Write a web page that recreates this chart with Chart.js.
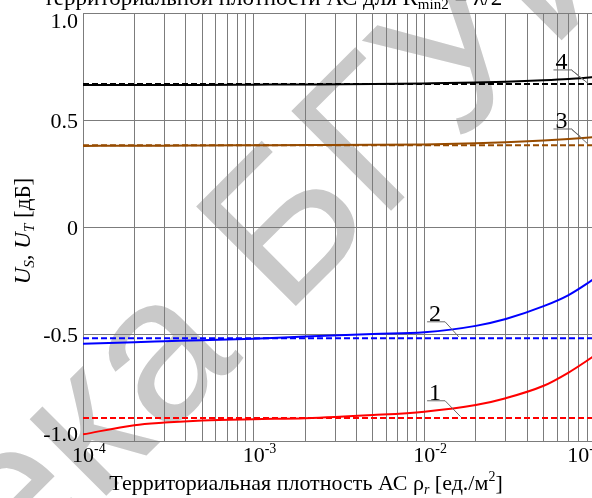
<!DOCTYPE html>
<html>
<head>
<meta charset="utf-8">
<script src="https://cdn.jsdelivr.net/npm/chart.js@4.4.1/dist/chart.umd.min.js"></script>
<style>
  html, body { margin: 0; padding: 0; background: #fff; overflow: hidden; width: 592px; height: 498px; }
  canvas { display: block; }
</style>
</head>
<body>
<canvas id="chart" width="612" height="498"></canvas>
<script>
// --- данные ---

// территориальная плотность АС, ед./м²
const rho = [1e-4, 2e-4, 3e-4, 5e-4, 1e-3, 2e-3, 5e-3, 1e-2, 2e-2, 3e-2, 5e-2, 7e-2, 1e-1];

// сплошные кривые (дБ)
const u1 = [-0.969, -0.926, -0.914, -0.904, -0.898, -0.894, -0.879, -0.863, -0.832, -0.800, -0.742, -0.680, -0.600];
const u2 = [-0.546, -0.538, -0.534, -0.529, -0.522, -0.512, -0.500, -0.492, -0.462, -0.430, -0.370, -0.318, -0.240];
const u3 = [0.379, 0.380, 0.380, 0.381, 0.382, 0.383, 0.384, 0.386, 0.391, 0.396, 0.404, 0.411, 0.420];
const u4 = [0.664, 0.664, 0.664, 0.664, 0.665, 0.666, 0.668, 0.671, 0.675, 0.679, 0.686, 0.692, 0.701];

// штриховые (асимптотические) уровни
const u1Dash = -0.892;
const u2Dash = -0.520;
const u3Dash = 0.382;
const u4Dash = 0.668;

// оси
const xDecades = [-4, -3, -2];
const xMantissas = [1, 2, 3, 4, 5, 6, 7, 8, 9];
const xMax = 1e-1;
const xLabelPowers = [-4, -3, -2, -1];
const yTicks = [-1, -0.5, 0, 0.5, 1];
const yTickLabels = ['-1.0', '-0.5', '0', '0.5', '1.0'];

// номера кривых: начало полочки (ρ, U) и концы выносок
const curveNames = ['1', '2', '3', '4'];
const curveLabelAt = [[0.01038, -0.812], [0.01038, -0.443], [0.0571, 0.458], [0.0571, 0.734]];
const curveLabelTips = [
  [[0.0163, -0.886]],
  [[0.0159, -0.513]],
  [[0.0822, 0.422], [0.0899, 0.391]],
  [[0.0859, 0.687], [0.0920, 0.668]]
];

const SERIF = '"Liberation Serif", "Times New Roman", serif';
const GRID = '#7c7c7c';
const COLORS = { red: '#ff0000', blue: '#0000ff', brown: '#964b00', black: '#000000' };

const xGrid = [];
xDecades.forEach(e => xMantissas.forEach(m => xGrid.push(m * Math.pow(10, e))));
xGrid.push(xMax);

function solid(values, color) {
  return {
    data: rho.map((x, i) => ({ x, y: values[i] })),
    borderColor: color,
    borderWidth: 2,
    pointRadius: 0,
    cubicInterpolationMode: 'monotone'
  };
}

function dashed(level, color) {
  return {
    data: [{ x: rho[0], y: level }, { x: rho[rho.length - 1], y: level }],
    borderColor: color,
    borderWidth: 2,
    borderDash: [6, 3],
    pointRadius: 0
  };
}

// рисует строку из кусков с разными шрифтами (индексы, степени)
function drawRuns(ctx, parts, x, y, align) {
  let total = 0;
  parts.forEach(p => { ctx.font = p.f; p.w = ctx.measureText(p.t).width; total += p.w; });
  let cx = align === 'center' ? x - total / 2 : align === 'right' ? x - total : x;
  ctx.textAlign = 'left';
  parts.forEach(p => { ctx.font = p.f; ctx.fillText(p.t, cx, y + (p.dy || 0)); cx += p.w; });
}

const decor = {
  id: 'decor',
  beforeDraw(chart) {
    // водяной знак
    const ctx = chart.ctx;
    ctx.save();
    ctx.fillStyle = '#c9c9c9';
    ctx.font = '205px "Liberation Sans", sans-serif';
    ctx.textBaseline = 'alphabetic';
    const pre = ctx.measureText('Библиотек').width;
    ctx.translate(160, 442);
    ctx.rotate(-45 * Math.PI / 180);
    ctx.fillText('Библиотека БГУИР', -pre, 0);
    ctx.restore();
  },
  afterDraw(chart) {
    const ctx = chart.ctx;
    const xs = chart.scales.x, ys = chart.scales.y;
    const area = chart.chartArea;
    ctx.save();
    ctx.fillStyle = '#000';
    ctx.textBaseline = 'alphabetic';

    // подписи оси Y
    ctx.font = '22px ' + SERIF;
    ctx.textAlign = 'right';
    yTicks.forEach((v, i) => {
      let y = ys.getPixelForValue(v) + 7.5;
      if (i === yTicks.length - 1) y = area.top + 15;
      if (i === 0) y = area.bottom;
      ctx.fillText(yTickLabels[i], area.left - 5, y);
    });

    // подписи оси X
    xLabelPowers.forEach((p, i) => {
      const px = xs.getPixelForValue(Math.pow(10, p));
      const base = { t: '10', f: '22px ' + SERIF };
      const sup = { t: '-' + Math.abs(p), f: '14px ' + SERIF, dy: -9 };
      if (i === xLabelPowers.length - 1) {
        drawRuns(ctx, [base, sup], px + 6, 462, 'right');
      } else {
        ctx.font = base.f;
        const w = ctx.measureText('10').width;
        drawRuns(ctx, [base, sup], px - w / 2, 462, 'left');
      }
    });

    // заголовок (нижняя строка, верх обрезан)
    drawRuns(ctx, [
      { t: 'территориальной плотности АС для R', f: '23px ' + SERIF },
      { t: 'min2', f: '15px ' + SERIF, dy: 4 },
      { t: ' = λ/2', f: '23px ' + SERIF }
    ], 273, 5, 'center');

    // подпись оси X
    drawRuns(ctx, [
      { t: 'Территориальная плотность АС ρ', f: '22px ' + SERIF },
      { t: 'r', f: 'italic 14px ' + SERIF, dy: 4 },
      { t: ' [ед./м', f: '22px ' + SERIF },
      { t: '2', f: '14px ' + SERIF, dy: -9 },
      { t: ']', f: '22px ' + SERIF }
    ], 306, 490, 'center');

    // подпись оси Y
    ctx.save();
    ctx.translate(30, 231);
    ctx.rotate(-Math.PI / 2);
    drawRuns(ctx, [
      { t: 'U', f: 'italic 23px ' + SERIF },
      { t: 'S', f: 'italic 15px ' + SERIF, dy: 4 },
      { t: ', ', f: '23px ' + SERIF },
      { t: 'U', f: 'italic 23px ' + SERIF },
      { t: 'T', f: 'italic 15px ' + SERIF, dy: 4 },
      { t: ' [дБ]', f: '23px ' + SERIF }
    ], 0, 0, 'center');
    ctx.restore();

    // номера кривых с выносками
    curveNames.forEach((name, i) => {
      const x0 = xs.getPixelForValue(curveLabelAt[i][0]);
      const y0 = ys.getPixelForValue(curveLabelAt[i][1]);
      const x1 = x0 + 18;
      ctx.strokeStyle = '#6a6a6a';
      ctx.lineWidth = 1;
      ctx.beginPath();
      ctx.moveTo(x0, y0);
      ctx.lineTo(x1, y0);
      curveLabelTips[i].forEach(t => {
        ctx.moveTo(x1, y0);
        ctx.lineTo(xs.getPixelForValue(t[0]), ys.getPixelForValue(t[1]));
      });
      ctx.stroke();
      ctx.font = '24px ' + SERIF;
      ctx.textAlign = 'center';
      ctx.fillText(name, x0 + 8, y0 - 1);
    });
    ctx.restore();
  }
};

new Chart(document.getElementById('chart'), {
  type: 'line',
  data: {
    datasets: [
      solid(u4, COLORS.black), dashed(u4Dash, COLORS.black),
      solid(u3, COLORS.brown), dashed(u3Dash, COLORS.brown),
      solid(u2, COLORS.blue), dashed(u2Dash, COLORS.blue),
      solid(u1, COLORS.red), dashed(u1Dash, COLORS.red)
    ]
  },
  options: {
    responsive: false,
    animation: false,
    devicePixelRatio: 1,
    layout: { padding: { top: 13, right: 17, left: 0, bottom: 0 } },
    plugins: { legend: { display: false }, tooltip: { enabled: false } },
    scales: {
      x: {
        type: 'logarithmic',
        min: 1e-4,
        max: xMax,
        ticks: { display: false },
        grid: { color: GRID, lineWidth: 1, drawTicks: false },
        border: { color: GRID },
        afterBuildTicks: s => { s.ticks = xGrid.map(v => ({ value: v })); },
        afterFit: s => { s.height = 57; }
      },
      y: {
        min: -1,
        max: 1,
        ticks: { display: false },
        grid: { color: GRID, lineWidth: 1, drawTicks: false },
        border: { color: GRID },
        afterBuildTicks: s => { s.ticks = yTicks.map(v => ({ value: v })); },
        afterFit: s => { s.width = 83; }
      }
    }
  },
  plugins: [decor]
});
</script>
</body>
</html>
